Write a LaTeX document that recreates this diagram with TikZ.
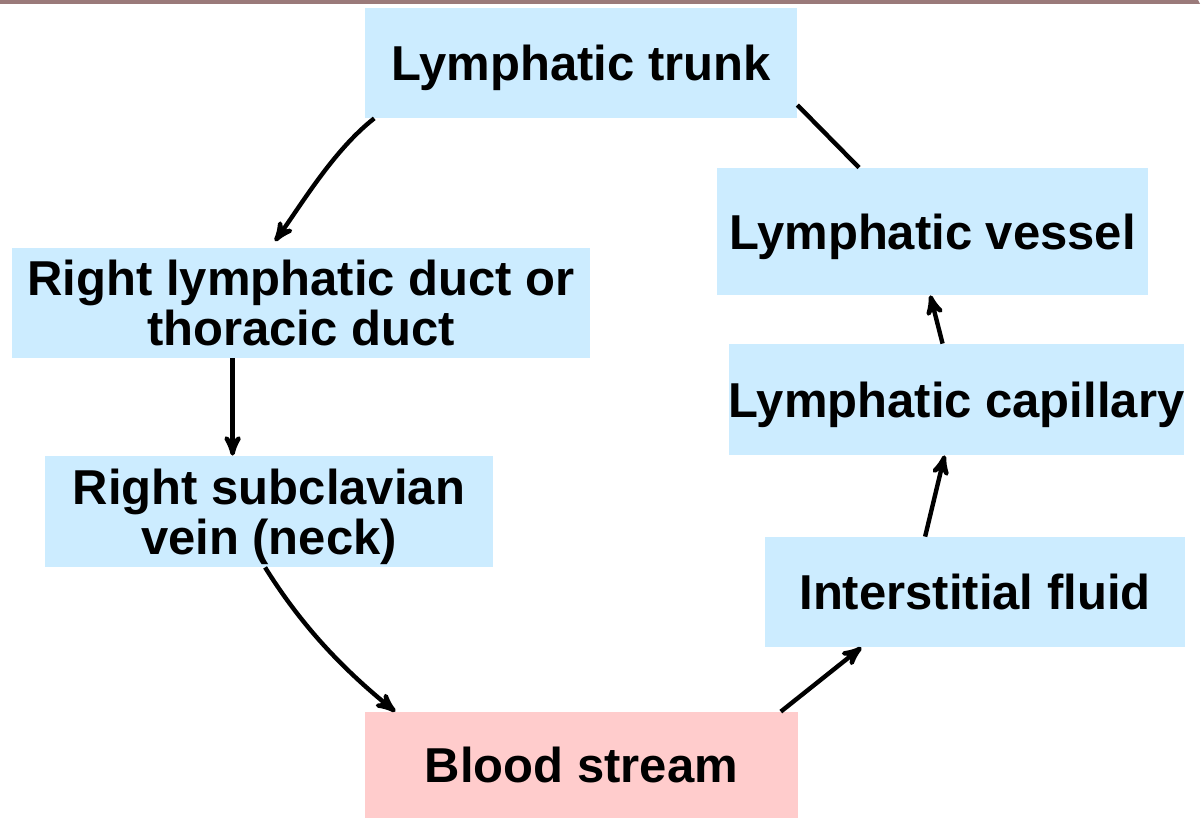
\documentclass[tikz,border=0pt]{standalone}
\usepackage{fontspec}
\setmainfont{Liberation Sans}
\usetikzlibrary{arrows,positioning}
\definecolor{boxblue}{RGB}{204,236,255}
\definecolor{boxpink}{RGB}{255,204,204}
\definecolor{barbrown}{RGB}{154,122,122}
\tikzset{
        >=stealth', % bold arrow heads
        flow/.style={->, line width=2.2pt}, % the arrows between the boxes
    }
\tikzset{
      blue box/.style={
		fill=boxblue,
		minimum width={#1},
		minimum height={55pt},
		inner sep=0pt,
		text depth=0pt,
		align=center,
		font=\fontsize{24.5}{25}\selectfont\bfseries,
	  },
  		pink box/.style={
    	blue box=#1,
    	fill=boxpink,
    	minimum height={53pt},
      }
  	}

\begin{document}
\begin{tikzpicture}[x=0.5pt, y=0.5pt]
    \useasboundingbox (0,0) rectangle (1204,820);
    \fill [barbrown] (0,816) -- (1200,816) -- (1198,820) -- (0,820) -- cycle;
    \node [blue box=216pt] (trunk) at (581,757) {Lymphatic trunk};
    \node [blue box=289pt] (duct) at (301,517) {Right lymphatic duct or\\thoracic duct};
    \node [blue box=224pt, minimum height=55.5pt] (subclavian) at (269,308.5) {Right subclavian\\vein (neck)};
    \node [pink box=216.5pt] (blood) at (581.5,55) {Blood stream};
    \node [blue box=210pt] (fluid) at (975,228) {Interstitial fluid};
    \node [blue box=223.5pt, minimum height=55.5pt] (capillary) at (956.5,420.5) {Lymphatic capillary};
    \node [blue box=215.5pt, minimum height=63.5pt] (vessel) at (932.5,588.5) {Lymphatic vessel};
    \draw [flow, shorten >=4pt] (trunk.195) to[out=218, in=54, looseness=0.8] (duct.119);
    \draw [flow] (duct.219) -- (duct.219 |- subclavian.north);
    \draw [flow] (subclavian.266) to[out=302, in=141, looseness=0.9] (blood.164);
    \draw [flow] (blood.15) -- (fluid.206);
    \draw [flow] (fluid.132) -- (capillary.258);
    \draw [flow] (capillary.104) -- (vessel.268);
    \draw [line width=2.2pt] (vessel.139) -- (trunk.349);
  \end{tikzpicture}
\end{document}
